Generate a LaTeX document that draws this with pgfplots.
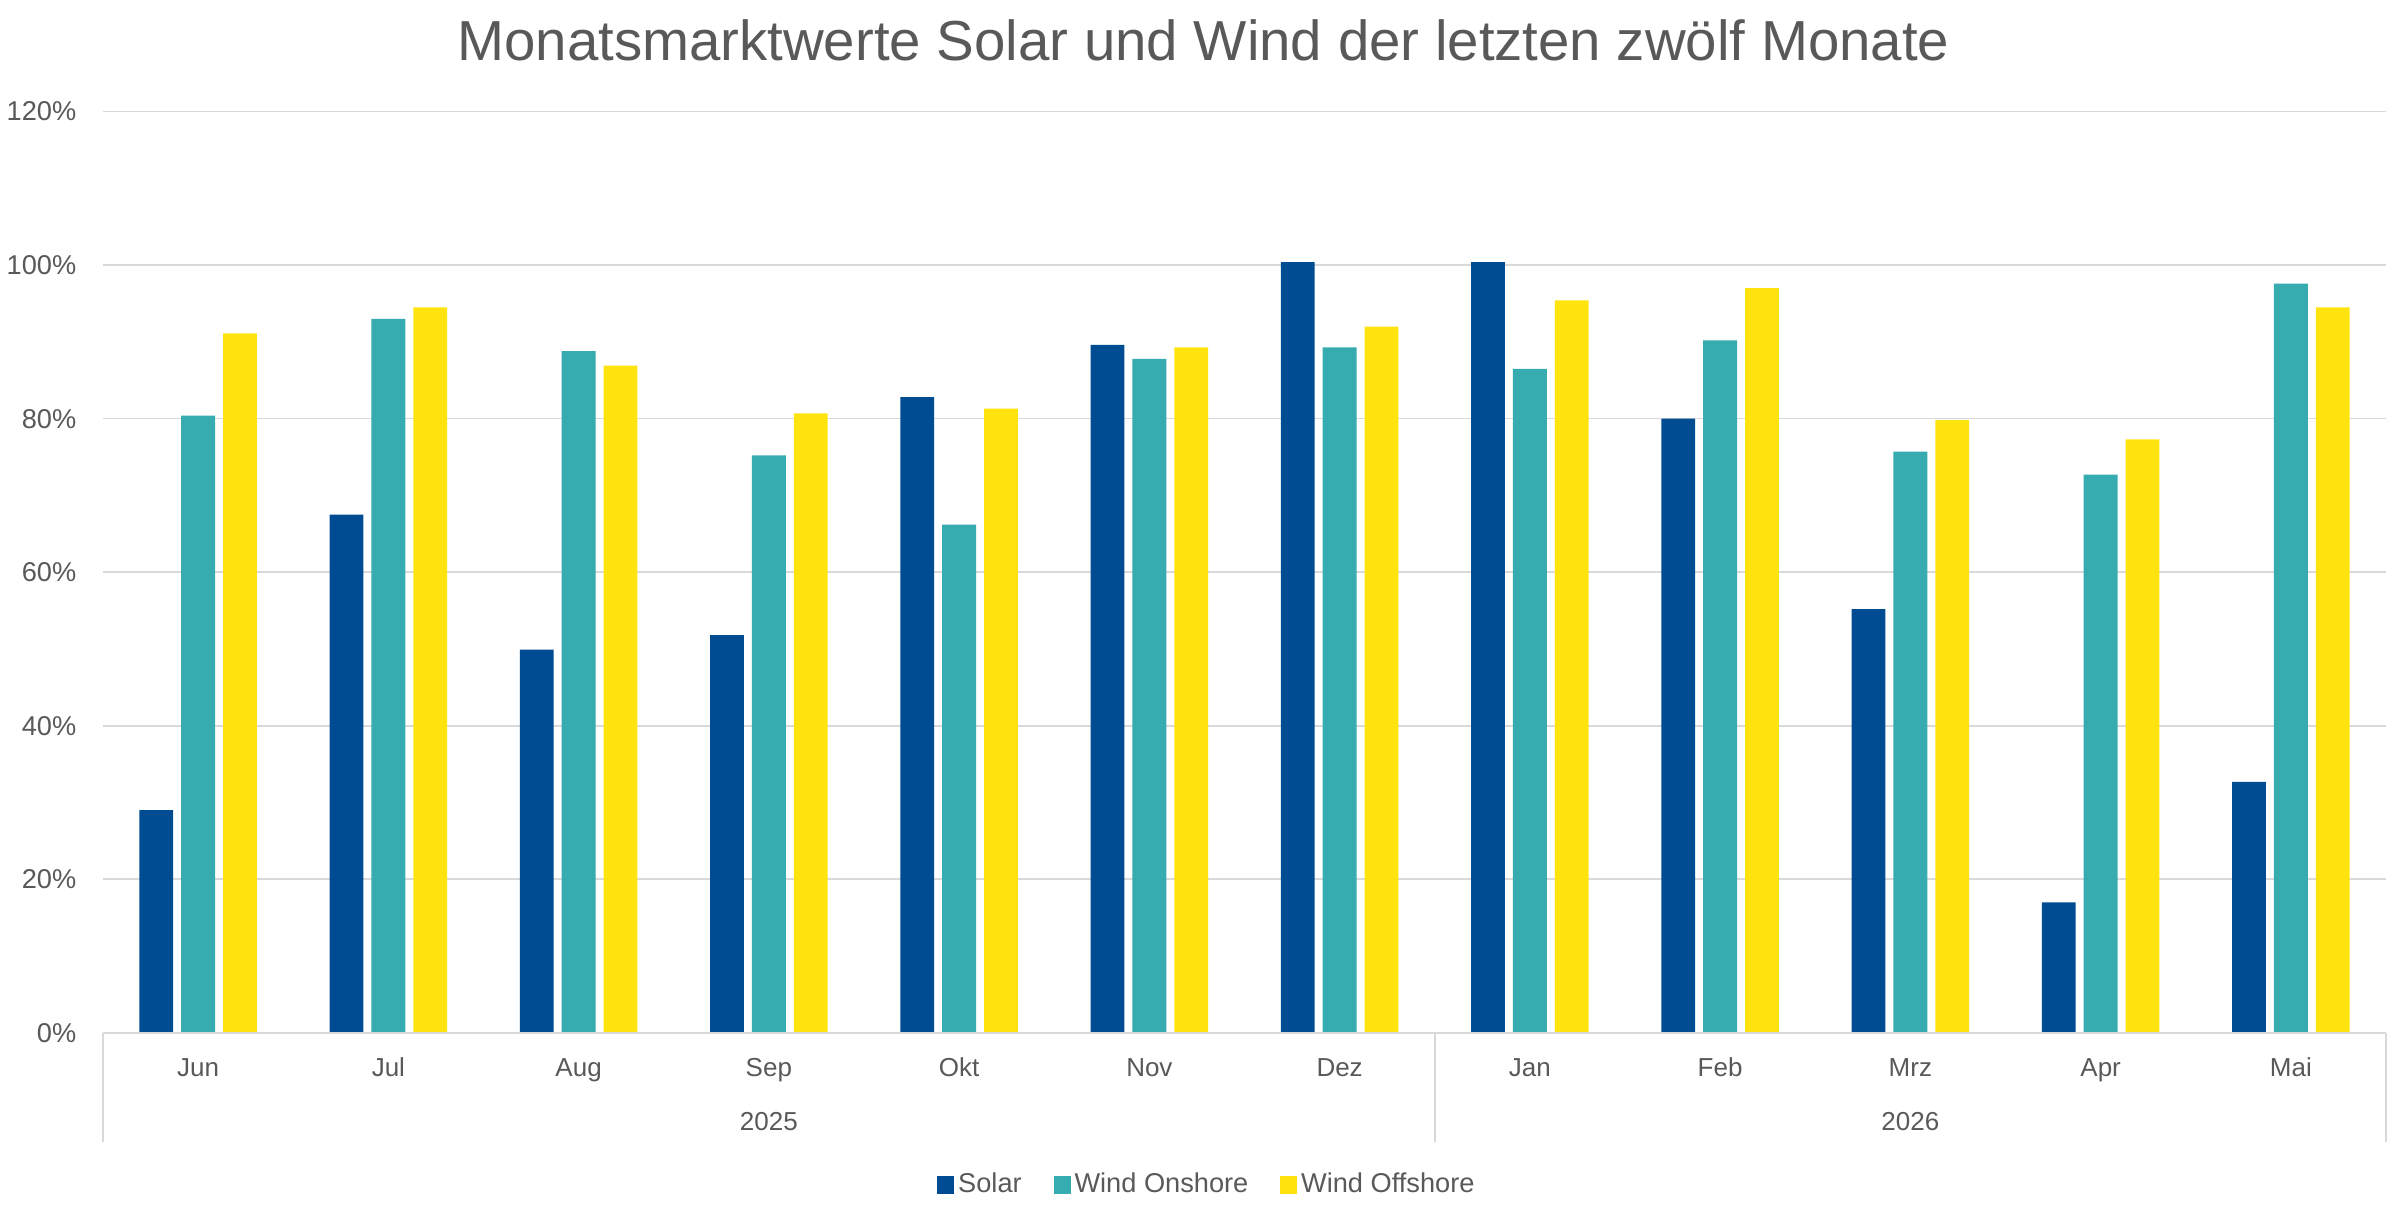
\documentclass[border=0pt]{standalone}
\usepackage{pgfplots}
\pgfplotsset{compat=1.18}
\usepackage{fontspec}
\setmainfont{Liberation Sans}
\definecolor{solar}{RGB}{0,76,147}
\definecolor{onshore}{RGB}{54,171,176}
\definecolor{offshore}{RGB}{255,227,15}
\definecolor{txt}{RGB}{89,89,89}
\definecolor{gridc}{RGB}{217,217,217}
\begin{document}
\begin{tikzpicture}
\path[use as bounding box] (-25.75pt,-43.5pt) rectangle (574.25pt,258.2pt);
\begin{axis}[
  at={(0,0)}, anchor=south west,
  scale only axis, width=570.75pt, height=230.3pt,
  xmin=-0.5, xmax=11.5, ymin=0, ymax=120,
  ytick={0,20,40,60,80,100,120},
  yticklabels={0\%,20\%,40\%,60\%,80\%,100\%,120\%},
  xtick={0,1,2,3,4,5,6,7,8,9,10,11},
  xticklabels={Jun,Jul,Aug,Sep,Okt,Nov,Dez,Jan,Feb,Mrz,Apr,Mai},
  /pgf/number format/assume math mode=true,
  major tick length=0pt,
  axis line style={draw=none},
  ymajorgrids, grid style={gridc, line width=0.4pt},
  yticklabel style={font=\fontsize{6.8}{8}\selectfont, text=txt, anchor=east, inner sep=0pt, xshift=-6.5pt},
  xticklabel style={font=\fontsize{6.5}{8}\selectfont, text=txt, anchor=base, inner sep=0pt, yshift=-11pt},
  ybar, bar width=0.178,
  clip=false,
  legend style={at={(0.484,0)}, anchor=center, yshift=-38.1pt, draw=none, fill=none,
    legend columns=3, font=\fontsize{6.8}{8}\selectfont, text=txt,
    /tikz/every even column/.append style={column sep=7pt},
    nodes={inner sep=1.0pt}},
  legend image code/.code={\fill[#1] (0pt,-2.2pt) rectangle (4.2pt,2.2pt);},
]
\addplot[fill=solar, draw=none, bar shift=-0.22] coordinates {
(0,29.0) (1,67.5) (2,49.9) (3,51.8) (4,82.8) (5,89.6) (6,100.4) (7,100.4) (8,80.0) (9,55.2) (10,17.0) (11,32.7)};
\addplot[fill=onshore, draw=none, bar shift=0] coordinates {
(0,80.4) (1,93.0) (2,88.8) (3,75.2) (4,66.2) (5,87.8) (6,89.3) (7,86.5) (8,90.2) (9,75.7) (10,72.7) (11,97.6)};
\addplot[fill=offshore, draw=none, bar shift=0.22] coordinates {
(0,91.1) (1,94.5) (2,86.9) (3,80.7) (4,81.3) (5,89.3) (6,92.0) (7,95.4) (8,97.0) (9,79.8) (10,77.3) (11,94.5)};
\legend{Solar,Wind Onshore,Wind Offshore}
\draw[gridc, line width=0.4pt] (axis cs:-0.5,0) -- (axis cs:11.5,0);
\draw[gridc, line width=0.4pt] (axis cs:-0.5,0) -- ([yshift=-27.3pt]axis cs:-0.5,0);
\draw[gridc, line width=0.4pt] (axis cs:6.5,0) -- ([yshift=-27.3pt]axis cs:6.5,0);
\draw[gridc, line width=0.4pt] (axis cs:11.5,0) -- ([yshift=-27.3pt]axis cs:11.5,0);
\node[font=\fontsize{6.5}{8}\selectfont, text=txt, anchor=base, inner sep=0pt] at ([yshift=-24.5pt]axis cs:3,0) {2025};
\node[font=\fontsize{6.5}{8}\selectfont, text=txt, anchor=base, inner sep=0pt] at ([yshift=-24.5pt]axis cs:9,0) {2026};
\end{axis}
\node[font=\fontsize{14.1}{16}\selectfont, text=txt, anchor=base, inner sep=0pt] at (275.1pt,242.95pt) {Monatsmarktwerte Solar und Wind der letzten zwölf Monate};
\end{tikzpicture}
\end{document}
